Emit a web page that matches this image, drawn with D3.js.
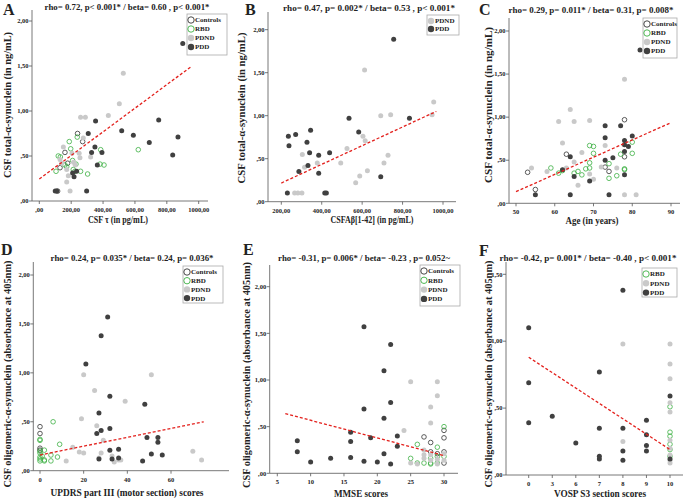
<!DOCTYPE html>
<html lang="en">
<head>
<meta charset="UTF-8"/>
<title>CSF alpha-synuclein correlations</title>
<script src="https://d3js.org/d3.v7.min.js"></script>
<style>
  body { margin: 0; background: #fff; }
  svg text { font-family: "Liberation Serif", "DejaVu Serif", serif; font-weight: bold; fill: #222; }
</style>
</head>
<body>
<script>
// ---- panel A : CSF tau vs total a-syn ----
var aControls = [[240,0.75],[272,0.66],[161,0.54],[130,0.37],[115,0.11],[178,0.42]];
var aRBD = [[188,0.66],[238,0.71],[197,0.58],[119,0.50],[132,0.49],[209,0.45],[230,0.41],[172,0.38],[213,0.35],[224,0.33],[259,0.33],[303,0.30],[105,0.33],[381,0.41],[406,0.40],[385,0.57],[621,0.57],[161,0.40]];
var aPDND = [[527,1.42],[502,1.08],[433,0.95],[259,0.93],[289,0.93],[276,0.70],[205,0.53],[250,0.53],[255,0.48],[322,0.49],[151,0.60],[215,0.43],[225,0.40],[172,0.35],[182,0.28],[172,0.21],[193,0.11],[140,0.42],[130,0.46]];
var aPDD = [[900,1.75],[353,0.89],[749,0.90],[517,0.78],[590,0.73],[307,0.75],[690,0.65],[870,0.71],[837,0.51],[349,0.60],[328,0.54],[393,0.54],[364,0.40],[234,0.33],[209,0.31],[218,0.27],[297,0.11],[100,0.11],[110,0.11]];
var aFit = [[0,0.244],[958,1.5]];

// ---- panel B : CSF Abeta42 vs total a-syn ----
var bPDND = [[612,1.53],[954,1.16],[946,1.01],[741,1.01],[692,1.00],[604,0.76],[615,0.71],[525,0.62],[304,0.55],[315,0.40],[378,0.45],[494,0.45],[728,0.54],[708,0.45],[588,0.30],[626,0.36],[568,0.22],[266,0.10],[282,0.10],[302,0.10]];
var bPDD = [[756,1.89],[535,0.97],[345,0.83],[583,0.81],[235,0.76],[271,0.78],[327,0.69],[238,0.65],[340,0.57],[439,0.57],[385,0.54],[332,0.42],[287,0.35],[385,0.33],[834,0.97],[692,0.29],[230,0.10],[415,0.10],[423,0.10]];
var bFit = [[200,0.217],[967,1.05]];

// ---- panel C : age vs total a-syn ----
var cControls = [[78,0.97],[63,0.57],[53,0.36],[55,0.16],[73,0.42],[74,0.37],[78,0.54]];
var cRBD = [[59,0.41],[61,0.35],[62,0.38],[65,0.35],[66,0.37],[67,0.33],[68,0.40],[69,0.41],[69,0.67],[70,0.66],[70,0.58],[74,0.46],[74,0.29],[76,0.32],[77,0.57],[78,0.39],[78,0.40],[80,0.58],[80,0.71],[69,0.47]];
var cPDND = [[78,1.44],[64,1.09],[61,0.95],[65,0.95],[69,0.96],[62,0.70],[67,0.59],[73,0.67],[54,0.41],[58,0.37],[63,0.41],[65,0.48],[69,0.34],[70,0.28],[66,0.21],[76,0.41],[78,0.10],[81,0.10],[72,0.42]];
var cPDD = [[73,0.90],[77,0.90],[73,0.76],[78,0.73],[78,0.68],[80,0.78],[79,0.66],[64,0.54],[75,0.53],[78,0.60],[73,0.50],[62,0.39],[65,0.31],[69,0.26],[78,0.33],[55,0.10],[64,0.10],[74,0.10],[82,1.78]];
var cFit = [[50,0.135],[90,0.936]];

// ---- panel D : UPDRS III vs oligomeric a-syn ----
var dControls = [[0,0.45],[0,0.38],[0,0.23],[0,0.21]];
var dRBD = [[0,0.32],[0,0.31],[0,0.18],[0,0.14],[0,0.12],[0,0.10],[0,0.20],[1,0.15],[2,0.21],[2,0.11],[2,0.10],[5,0.16],[5,0.10],[6,0.50],[8,0.14],[9,0.27]];
var dPDND = [[20,0.98],[25,0.82],[39,0.71],[19,0.53],[26,0.46],[29,0.31],[18,0.19],[20,0.18],[28,0.18],[12,0.10],[15,0.24],[27,0.13],[33,0.15],[36,0.11],[37,0.11],[70,0.20],[74,0.11],[34,0.09],[51,0.98]];
var dPDD = [[31,1.57],[28,1.38],[21,1.09],[32,0.76],[48,0.68],[27,0.59],[28,0.41],[26,0.38],[32,0.43],[49,0.34],[54,0.34],[54,0.29],[32,0.21],[36,0.22],[27,0.12],[33,0.12],[36,0.13],[47,0.10],[51,0.17],[56,0.16]];
var dFit = [[0,0.16],[75,0.50]];

// ---- panel E : MMSE vs oligomeric a-syn ----
var eControls = [[27,0.39],[28,0.33],[30,0.46],[30,0.38],[30,0.23],[28,0.23],[29,0.21],[30,0.11]];
var eRBD = [[30,0.50],[26,0.31],[25,0.16],[26,0.11],[27,0.11],[28,0.11],[29,0.28],[29,0.18],[28,0.16],[30,0.18],[28,0.10],[29,0.11]];
var ePDND = [[25,0.98],[29,0.98],[29,0.83],[28,0.71],[28,0.54],[24,0.46],[27,0.25],[27,0.20],[27,0.16],[28,0.20],[28,0.14],[25,0.11],[30,0.21],[30,0.14],[29,0.15],[29,0.10],[26,0.10]];
var ePDD = [[18,1.57],[22,1.38],[21,1.10],[22,0.76],[18,0.69],[21,0.59],[16,0.44],[19,0.38],[23,0.40],[8,0.35],[16,0.34],[8,0.23],[23,0.29],[21,0.21],[10,0.12],[13,0.16],[16,0.17],[18,0.13],[20,0.12],[22,0.10]];
var eFit = [[6.2,0.64],[30,0.19]];

// ---- panel F : VOSP S3 vs oligomeric a-syn ----
var fCats = [0,3,6,7,8,9,10];
var fRBD = [[10,0.51],[10,0.32],[10,0.29],[10,0.23],[10,0.19],[10,0.14]];
var fPDND = [[8,0.98],[8,0.25],[10,0.98],[10,0.83],[10,0.72],[10,0.54],[10,0.47],[10,0.26],[10,0.20],[10,0.15],[10,0.11],[10,0.09]];
var fPDD = [[0,1.10],[0,0.69],[0,0.39],[3,0.44],[6,0.24],[7,0.77],[7,0.35],[7,0.14],[7,0.12],[8,1.38],[8,0.35],[8,0.18],[8,0.11],[9,0.41],[9,0.30],[9,0.22],[9,0.18],[10,0.59],[10,0.12]];
var fFit = [[0,0.88],[10,0.19]];

var yTicks2 = [0,0.5,1,1.5,2];
var yTicks15 = [0,0.5,1,1.5];

var groupStyle = {
  Controls: {fill:"none", stroke:"#333", r:2.3},
  RBD: {fill:"none", stroke:"#3cb043", r:2.3},
  PDND: {fill:"#c9c9c9", stroke:"none", r:2.5},
  PDD: {fill:"#404040", stroke:"none", r:2.5}
};

var fmt = function(d){
  var s = d.toFixed(2).replace(".", ",");
  if (s.indexOf("0,") === 0) s = s.slice(1);
  return s;
};

var svg = d3.select("body").append("svg").attr("width",685).attr("height",500);

function drawPanel(p){
  var g = svg.append("g");
  var x = p.cats
    ? d3.scalePoint().domain(p.cats).range(p.xRange)
    : d3.scaleLinear().domain(p.xDomain).range(p.xRange);
  var y = d3.scaleLinear().domain(p.yDomain).range(p.yRange);
  var y0 = p.yRange[0];

  // axes lines
  g.append("line").attr("x1",p.axisX).attr("x2",p.axisX).attr("y1",p.yTop).attr("y2",y0)
    .attr("stroke","#555").attr("stroke-width",0.8);
  g.append("line").attr("x1",p.axisX).attr("x2",p.xEnd).attr("y1",y0).attr("y2",y0)
    .attr("stroke","#555").attr("stroke-width",0.8);

  // y ticks
  p.yTicks.forEach(function(t){
    g.append("line").attr("x1",p.axisX-3).attr("x2",p.axisX).attr("y1",y(t)).attr("y2",y(t))
      .attr("stroke","#555").attr("stroke-width",0.8);
    g.append("text").attr("x",p.axisX-3.5).attr("y",y(t)+2.2).attr("text-anchor","end")
      .attr("font-size","6.5px").text(fmt(t));
  });
  // x ticks
  p.xTicks.forEach(function(t){
    g.append("line").attr("x1",x(t)).attr("x2",x(t)).attr("y1",y0).attr("y2",y0+3)
      .attr("stroke","#555").attr("stroke-width",0.8);
    g.append("text").attr("x",x(t)).attr("y",y0+11).attr("text-anchor","middle")
      .attr("font-size","6.5px").text(p.xFmt ? p.xFmt(t) : t);
  });

  // points
  p.series.forEach(function(s){
    var st = groupStyle[s.name];
    g.selectAll(null).data(s.data).enter().append("circle")
      .attr("cx",function(d){ return x(d[0]); })
      .attr("cy",function(d){ return y(d[1]); })
      .attr("r",st.r)
      .attr("fill",st.fill)
      .attr("stroke",st.stroke)
      .attr("stroke-width",0.8);
  });

  // fit line
  g.append("line")
    .attr("x1",x(p.fit[0][0])).attr("y1",y(p.fit[0][1]))
    .attr("x2",x(p.fit[1][0])).attr("y2",y(p.fit[1][1]))
    .attr("stroke","#e3201c").attr("stroke-width",1.3).attr("stroke-dasharray","3,2");

  // legend
  var lg = p.legend;
  g.append("rect").attr("x",lg.x).attr("y",lg.y).attr("width",lg.w).attr("height",lg.h)
    .attr("fill","#fff").attr("stroke","#aaa").attr("stroke-width",0.8);
  lg.names.forEach(function(n,i){
    var st = groupStyle[n];
    var cy = lg.y + 6 + i*lg.step;
    g.append("circle").attr("cx",lg.x+4).attr("cy",cy).attr("r",3.2)
      .attr("fill",st.fill).attr("stroke",st.stroke).attr("stroke-width",0.9);
    g.append("text").attr("x",lg.x+8).attr("y",cy+2.4).attr("font-size","7px").text(n);
  });

  // texts
  g.append("text").attr("x",p.letter[0]).attr("y",p.letter[1]).attr("font-size","16px").text(p.name);
  g.append("text").attr("x",p.stat[0]).attr("y",p.stat[1]).attr("text-anchor","middle")
    .attr("font-size","8px").attr("textLength",p.stat[2]).attr("lengthAdjust","spacingAndGlyphs")
    .text(p.statText);
  g.append("text").attr("transform","translate("+p.yLab[0]+","+p.yLab[1]+") rotate(-90)")
    .attr("text-anchor","middle").attr("font-size","10px")
    .attr("textLength",p.yLab[2]).attr("lengthAdjust","spacingAndGlyphs").text(p.yLabText);
  g.append("text").attr("x",p.xLab[0]).attr("y",p.xLab[1]).attr("text-anchor","middle")
    .attr("font-size","10px").attr("textLength",p.xLab[2]).attr("lengthAdjust","spacingAndGlyphs")
    .text(p.xLabText);
}

var yTotal = "CSF total-\u03b1-synuclein (in ng/mL)";
var yOlig = "CSF oligomeric-\u03b1-synuclein (absorbance at 405nm)";

drawPanel({
  name:"A", letter:[3,15], statText:"rho= 0.72, p< 0.001* / beta= 0.60 , p< 0.001*", stat:[127,10,165],
  xDomain:[0,1000], xRange:[39.3,198.7], xTicks:[0,200,400,600,800,1000], xFmt:fmt,
  axisX:32, xEnd:208, yDomain:[0,2], yRange:[201,21], yTop:10, yTicks:yTicks2,
  series:[{name:"Controls",data:aControls},{name:"RBD",data:aRBD},{name:"PDND",data:aPDND},{name:"PDD",data:aPDD}],
  fit:aFit, legend:{x:187,y:14,w:40,h:41,step:9,names:["Controls","RBD","PDND","PDD"]},
  yLabText:yTotal, yLab:[11,105,146], xLabText:"CSF \u03c4 (in pg/mL)", xLab:[118,223,60]
});
drawPanel({
  name:"B", letter:[245,15], statText:"rho= 0.47, p= 0.002* / beta= 0.53 , p< 0.001*", stat:[369,11,172],
  xDomain:[200,1000], xRange:[281.3,443], xTicks:[200,400,600,800,1000], xFmt:fmt,
  axisX:268, xEnd:456, yDomain:[0,2], yRange:[201.7,29.7], yTop:12, yTicks:yTicks2,
  series:[{name:"PDND",data:bPDND},{name:"PDD",data:bPDD}],
  fit:bFit, legend:{x:427,y:15,w:32,h:20,step:8,names:["PDND","PDD"]},
  yLabText:yTotal, yLab:[245,108,151], xLabText:"CSFA\u03b2[1-42] (in pg/mL)", xLab:[372,223,83]
});
drawPanel({
  name:"C", letter:[479,15], statText:"rho= 0.29, p= 0.011* / beta= 0.31, p= 0.008*", stat:[591,13,165],
  xDomain:[50,90], xRange:[516,671], xTicks:[50,60,70,80,90],
  axisX:509, xEnd:680, yDomain:[0,2], yRange:[203.3,31], yTop:18, yTicks:yTicks2,
  series:[{name:"Controls",data:cControls},{name:"RBD",data:cRBD},{name:"PDND",data:cPDND},{name:"PDD",data:cPDD}],
  fit:cFit, legend:{x:643,y:18,w:34,h:40,step:9,names:["Controls","RBD","PDND","PDD"]},
  yLabText:yTotal, yLab:[492,105,156], xLabText:"Age (in years)", xLab:[592,224,53]
});
drawPanel({
  name:"D", letter:[1,255], statText:"rho= 0.24, p= 0.035* / beta= 0.24, p= 0.036*", stat:[132,261,163],
  xDomain:[0,60], xRange:[40,171], xTicks:[0,20,40,60],
  axisX:33.3, xEnd:229, yDomain:[0,2], yRange:[470.7,275], yTop:262, yTicks:yTicks2,
  series:[{name:"Controls",data:dControls},{name:"RBD",data:dRBD},{name:"PDND",data:dPDND},{name:"PDD",data:dPDD}],
  fit:dFit, legend:{x:183,y:266,w:40,h:37,step:8.7,names:["Controls","RBD","PDND","PDD"]},
  yLabText:yOlig, yLab:[11,374,227], xLabText:"UPDRS part III (motor section) scores", xLab:[127,496,153]
});
drawPanel({
  name:"E", letter:[243,255], statText:"rho= -0.31, p= 0.006* / beta= -0.23 , p= 0.052~", stat:[364,261,172],
  xDomain:[5,30], xRange:[277.3,444], xTicks:[5,10,15,20,25,30],
  axisX:269.7, xEnd:458, yDomain:[0,2], yRange:[473.3,286.7], yTop:265, yTicks:yTicks2,
  series:[{name:"Controls",data:eControls},{name:"RBD",data:eRBD},{name:"PDND",data:ePDND},{name:"PDD",data:ePDD}],
  fit:eFit, legend:{x:420,y:265,w:40,h:41,step:9.3,names:["Controls","RBD","PDND","PDD"]},
  yLabText:yOlig, yLab:[250,375,226], xLabText:"MMSE scores", xLab:[361,497,54]
});
drawPanel({
  name:"F", letter:[479,256], statText:"rho= -0.42, p= 0.001* / beta= -0.40 , p< 0.001*", stat:[588,261,177],
  cats:fCats, xRange:[528.7,670], xTicks:fCats,
  axisX:506, xEnd:683, yDomain:[0,1.5], yRange:[475,274.3], yTop:262, yTicks:yTicks15,
  series:[{name:"RBD",data:fRBD},{name:"PDND",data:fPDND},{name:"PDD",data:fPDD}],
  fit:fFit, legend:{x:642,y:268,w:35,h:29,step:9.3,names:["RBD","PDND","PDD"]},
  yLabText:yOlig, yLab:[492,374,227], xLabText:"VOSP S3 section scores", xLab:[600,497,92]
});
</script>
</body>
</html>
